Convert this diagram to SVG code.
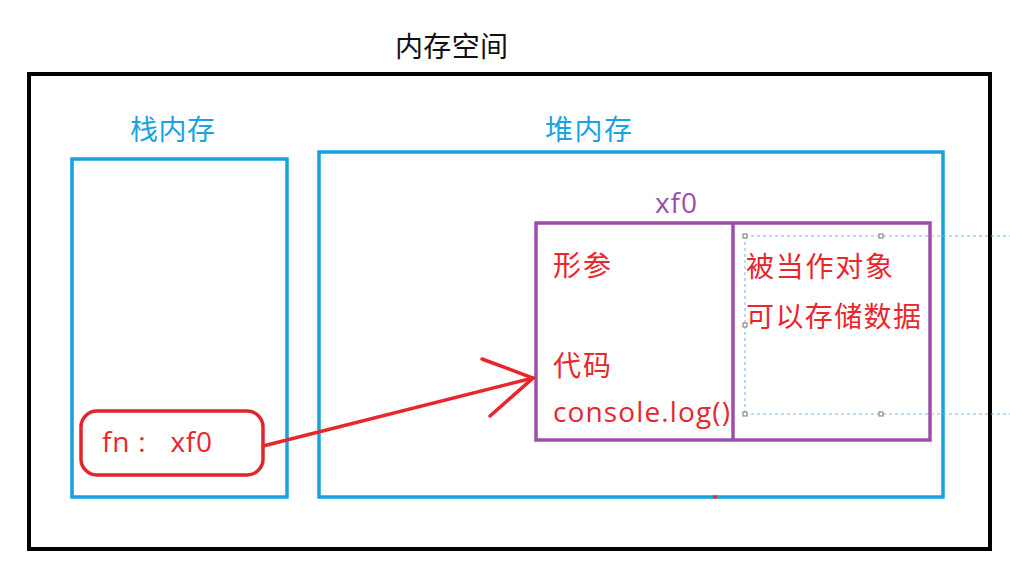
<svg xmlns="http://www.w3.org/2000/svg" width="1010" height="572" viewBox="0 0 1010 572">
<style>
.cjk{font-family:"Microsoft YaHei","Noto Sans CJK SC","Noto Sans",sans-serif}
.lat{font-family:"Open Sans","Noto Sans","Noto Sans CJK SC",sans-serif}
.blue{fill:none;stroke:#15a3e0;stroke-width:3.5}
.purple{fill:none;stroke:#9b4fa8;stroke-width:3.5}
.red{fill:#e8262b}
.sel{fill:none;stroke:#7fb2e0;stroke-width:1;stroke-dasharray:3 3}
.h{fill:#fff;stroke:#777;stroke-width:1}
</style>
<rect width="1010" height="572" fill="#fff"/>
<g id="memory">
<rect x="29" y="74" width="961" height="475" fill="none" stroke="#000" stroke-width="4"/>
<text x="395" y="57" class="cjk" font-size="28" fill="#111" textLength="113">内存空间</text>
</g>
<g id="stack">
<rect x="72" y="159" width="215" height="338" class="blue"/>
<text x="130" y="140" class="cjk" font-size="28" fill="#1aa3e0" textLength="85">栈内存</text>
</g>
<g id="heap">
<rect x="319" y="152" width="624" height="345" class="blue"/>
<text x="545" y="140" class="cjk" font-size="28" fill="#1aa3e0" textLength="87">堆内存</text>
<rect x="713" y="495.5" width="4" height="3" fill="#e8262b"/>
</g>
<g id="fnref">
<rect x="81" y="411" width="182" height="64" rx="16" fill="none" stroke="#e0262b" stroke-width="3.5"/>
<text x="102" y="452" class="lat red" font-size="28" xml:space="preserve" textLength="110">fn :   xf0</text>
</g>
<g id="xf0">
<text x="655" y="213" class="lat" font-size="28" fill="#9b4fa8" textLength="42">xf0</text>
<rect x="536" y="223" width="394" height="217" class="purple"/>
<line x1="733" y1="223" x2="733" y2="440" class="purple"/>
<text x="553" y="276" class="cjk red" font-size="28" textLength="58">形参</text>
<text x="553" y="376" class="cjk red" font-size="28" textLength="58">代码</text>
<text x="553" y="422" class="lat red" font-size="28" textLength="177">console.log()</text>
<text x="746" y="277" class="cjk red" font-size="28" textLength="147">被当作对象</text>
<text x="746" y="327" class="cjk red" font-size="28" textLength="175">可以存储数据</text>
</g>
<g id="selection">
<line x1="745" y1="236" x2="1010" y2="236" class="sel"/>
<line x1="745" y1="414" x2="1010" y2="414" class="sel"/>
<line x1="745" y1="236" x2="745" y2="414" class="sel"/>
<rect x="743" y="234" width="4" height="4" class="h"/>
<rect x="879" y="234" width="4" height="4" class="h"/>
<rect x="743" y="323" width="4" height="4" class="h"/>
<rect x="743" y="412" width="4" height="4" class="h"/>
<rect x="879" y="412" width="4" height="4" class="h"/>
</g>
<g id="connectors" fill="none" stroke="#e8262b" stroke-width="3.5" stroke-linecap="round">
<path d="M263 446 L533 378"/>
<path d="M482 359 L533 378 L490 416"/>
</g>
</svg>
